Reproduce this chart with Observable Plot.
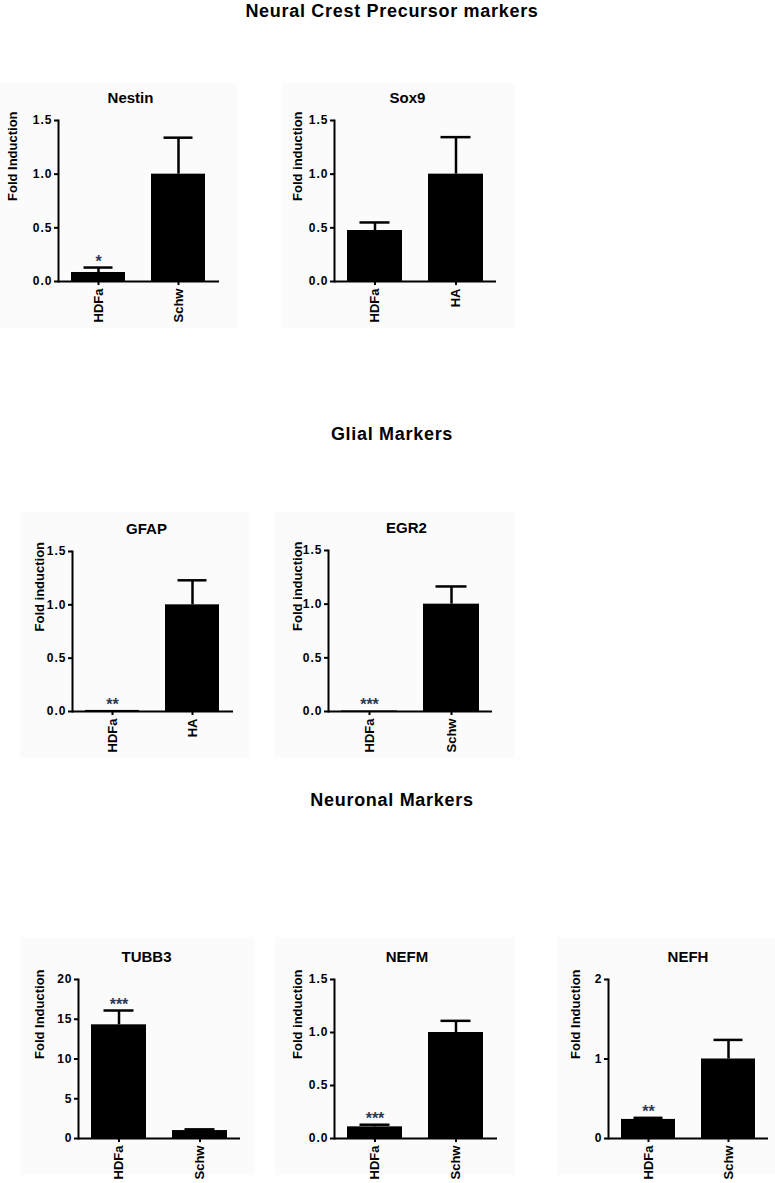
<!DOCTYPE html>
<html><head><meta charset="utf-8">
<script src="https://cdn.jsdelivr.net/npm/d3@7"></script>
<script src="https://cdn.jsdelivr.net/npm/@observablehq/plot@0.6"></script>
<style>
body{margin:0;background:#fff;}
#page{position:relative;width:775px;height:1183px;font-family:"Liberation Sans",Arial,sans-serif;font-weight:bold;color:#000;overflow:hidden;}
.section{position:absolute;left:0;width:775px;text-align:center;font-size:18px;line-height:18px;letter-spacing:0.7px;padding-left:9px;box-sizing:border-box;white-space:nowrap;}
.panel{position:absolute;}
.panel svg{overflow:visible;}
g[aria-label="y-axis tick label"] text{letter-spacing:1px;}
g[aria-label="panel-title"] text{letter-spacing:0.8px;}
g[aria-label="stars"] text{letter-spacing:1.5px;}
</style></head><body><div id="page"></div>
<script>
// ---- data ----
const sections = ["Neural Crest Precursor markers", "Glial Markers", "Neuronal Markers"];
const genes = ["Nestin", "Sox9", "GFAP", "EGR2", "TUBB3", "NEFM", "NEFH"];
const groups = [["HDFa","Schw"],["HDFa","HA"],["HDFa","HA"],["HDFa","Schw"],["HDFa","Schw"],["HDFa","Schw"],["HDFa","Schw"]];
const means = [[0.084,1.0],[0.475,1.0],[0.01,1.0],[0.005,1.0],[14.3,1.0],[0.11,1.0],[0.24,1.0]];
const sems  = [[0.046,0.34],[0.075,0.345],[0,0.23],[0,0.165],[1.8,0.15],[0.02,0.11],[0.02,0.24]];
const stars = [["*",""],["",""],["**",""],["***",""],["***",""],["***",""],["**",""]];
const yLabels = ["Fold Induction","Fold induction","Fold induction","Fold induction","Fold Induction","Fold induction","Fold Induction"];
const yTicks = [[0,0.5,1,1.5],[0,0.5,1,1.5],[0,0.5,1,1.5],[0,0.5,1,1.5],[0,5,10,15,20],[0,0.5,1,1.5],[0,1,2]];

// ---- layout (pixels) ----
const sectionBaselines = [17, 440, 806];
const boxes  = [[0,83,237,328],[282,83,515,328],[20,512,250,758],[275,512,515,758],[20,937,255,1175],[275,937,515,1175],[557,937,775,1175]];
const frames = [[58,219,120,281],[334,496,120,281],[72,233,551,711],[328,492,550,711],[78,240,979,1138],[334,497,979,1138],[608,768,979,1138]];
const titleX = [130,407,146,406,146,406.5,687.5];
const yLabelX = [12.5,297,39,297,39,297.5,575.5];

const page = document.getElementById("page");

sections.forEach((s, i) => {
  const d = document.createElement("div");
  d.className = "section";
  d.style.top = (sectionBaselines[i] - 15) + "px";
  d.textContent = s;
  page.appendChild(d);
});

genes.forEach((gene, i) => {
  const [bl, bt, br, bb] = boxes[i];
  const [fl, fr, ft, fb] = frames[i];
  const rows = groups[i].map((g, j) => ({group: g, mean: means[i][j], sem: sems[i][j], star: stars[i][j]}));
  const ticks = yTicks[i];
  const fmt = Number.isInteger(ticks[1]) ? d3.format("d") : d3.format(".1f");
  const chart = Plot.plot({
    width: br - bl,
    height: bb - bt,
    marginLeft: fl - bl,
    marginRight: br - fr,
    marginTop: ft - bt,
    marginBottom: bb - fb,
    style: {background: "#fbfbfb", fontFamily: '"Liberation Sans", Arial, sans-serif', fontWeight: "bold", fontSize: "12px", color: "#000", overflow: "visible"},
    x: {type: "band", domain: groups[i], paddingInner: 0.32, paddingOuter: 0.16, label: null},
    y: {domain: [0, ticks[ticks.length - 1]], label: null},
    marks: [
      Plot.barY(rows, {x: "group", y: "mean", fill: "#000"}),
      Plot.ruleX(rows, {x: "group", y1: "mean", y2: d => d.mean + d.sem, stroke: "#000", strokeWidth: 2.5}),
      Plot.tickY(rows.filter(d => d.sem > 0), {x: "group", y: d => d.mean + d.sem, stroke: "#000", strokeWidth: 2.5, insetLeft: 12.5, insetRight: 12.5}),
      Plot.text(rows.filter(d => d.star), {x: "group", y: d => d.mean + d.sem, text: "star", lineAnchor: "top", dy: -12, fontSize: 16, fill: "#2b3a55", ariaLabel: "stars"}),
      Plot.ruleY([0], {stroke: "#000", strokeWidth: 2}),
      Plot.frame({anchor: "left", stroke: "#000", strokeWidth: 2}),
      Plot.axisY({ticks: ticks, tickFormat: fmt, tickSize: 4, tickPadding: 2, strokeWidth: 2, label: null, fontSize: 12}),
      Plot.axisX({tickSize: 4, tickPadding: 3, tickRotate: -90, strokeWidth: 2, label: null, fontSize: 13}),
      Plot.text([gene], {frameAnchor: "top", dx: titleX[i] - (fl + fr) / 2, dy: -18, lineAnchor: "bottom", fontSize: 15, ariaLabel: "panel-title"}),
      Plot.text([yLabels[i]], {frameAnchor: "left", dx: yLabelX[i] - fl, rotate: -90, fontSize: 13})
    ]
  });
  const wrap = document.createElement("div");
  wrap.className = "panel";
  wrap.style.left = bl + "px";
  wrap.style.top = bt + "px";
  wrap.appendChild(chart);
  page.appendChild(wrap);
});
</script>
</body></html>
